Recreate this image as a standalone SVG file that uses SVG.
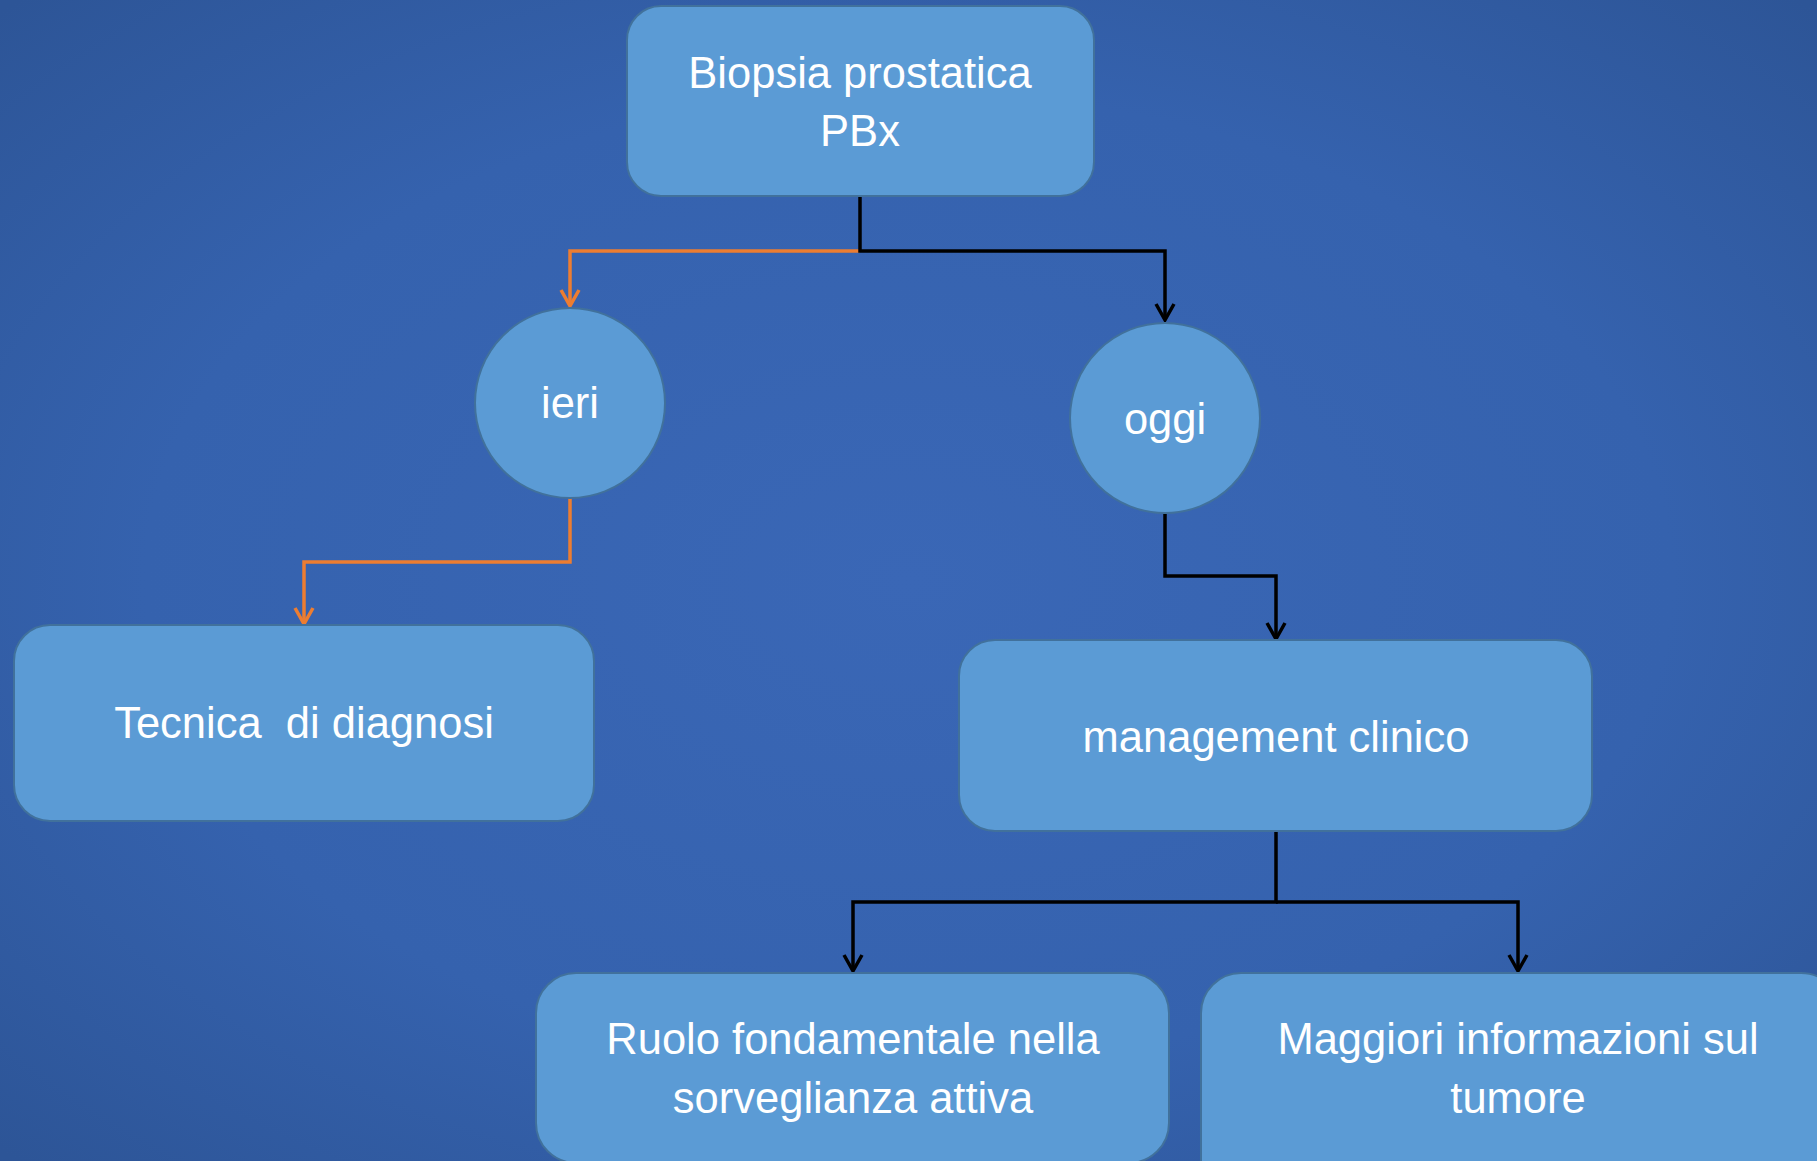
<svg xmlns="http://www.w3.org/2000/svg" width="1817" height="1161" viewBox="0 0 1817 1161">
  <defs>
    <radialGradient id="bg" cx="50%" cy="50%" r="70%">
      <stop offset="0" stop-color="#3A67B6"/>
      <stop offset="0.6" stop-color="#3562AE"/>
      <stop offset="1" stop-color="#2D5597"/>
    </radialGradient>
    <marker id="arrOrange" markerUnits="userSpaceOnUse" markerWidth="24" markerHeight="24" viewBox="-12 -20 24 24" refX="0" refY="0" orient="0">
      <path d="M-9,-16 L0,0 L9,-16" fill="none" stroke="#ED7D31" stroke-width="3.5"/>
    </marker>
  </defs>
  <style>
    .box { fill: #5B9BD5; stroke: #41719C; stroke-width: 2; }
    .lbl { font-family: "Liberation Sans", Arial, sans-serif; font-size: 43.5px; fill: #FFFFFF; text-anchor: middle; white-space: pre; }
    .blk { fill: none; stroke: #000000; stroke-width: 3.5; }
    .org { fill: none; stroke: #ED7D31; stroke-width: 3.5; }
  </style>
  <rect x="0" y="0" width="1817" height="1161" fill="url(#bg)"/>

  <g id="connectors">
    <path class="org" d="M860,251 H570 V306" marker-end="url(#arrOrange)"/>
    <path class="blk" d="M860,196 V251 H1165 V320"/>
    <path class="org" d="M570,498 V562 H304 V624" marker-end="url(#arrOrange)"/>
    <path class="blk" d="M1165,514 V576 H1276 V639"/>
    <path class="blk" d="M1276,831 V902 H853 V971"/>
    <path class="blk" d="M1276,902 H1518 V971"/>
    <g fill="none" stroke="#000000" stroke-width="3.5">
      <path d="M1156,304 L1165,320 L1174,304"/>
      <path d="M1267,623 L1276,639 L1285,623"/>
      <path d="M844,955 L853,971 L862,955"/>
      <path d="M1509,955 L1518,971 L1527,955"/>
    </g>
  </g>

  <g id="node-biopsia">
    <rect class="box" x="627" y="6" width="467" height="190" rx="34"/>
    <text class="lbl" x="860" y="88">Biopsia prostatica</text>
    <text class="lbl" x="860" y="146">PBx</text>
  </g>

  <g id="node-ieri">
    <circle class="box" cx="570" cy="403" r="95"/>
    <text class="lbl" x="570" y="418">ieri</text>
  </g>

  <g id="node-oggi">
    <circle class="box" cx="1165" cy="418" r="95"/>
    <text class="lbl" x="1165" y="434">oggi</text>
  </g>

  <g id="node-tecnica">
    <rect class="box" x="14" y="625" width="580" height="196" rx="36"/>
    <text class="lbl" x="304" y="738">Tecnica  di diagnosi</text>
  </g>

  <g id="node-management">
    <rect class="box" x="959" y="640" width="633" height="191" rx="36"/>
    <text class="lbl" x="1276" y="752">management clinico</text>
  </g>

  <g id="node-ruolo">
    <rect class="box" x="536" y="973" width="633" height="190" rx="40"/>
    <text class="lbl" x="853" y="1054">Ruolo fondamentale nella</text>
    <text class="lbl" x="853" y="1113">sorveglianza attiva</text>
  </g>

  <g id="node-maggiori">
    <rect class="box" x="1201" y="973" width="640" height="230" rx="40"/>
    <text class="lbl" x="1518" y="1054">Maggiori informazioni sul</text>
    <text class="lbl" x="1518" y="1113">tumore</text>
  </g>
</svg>
